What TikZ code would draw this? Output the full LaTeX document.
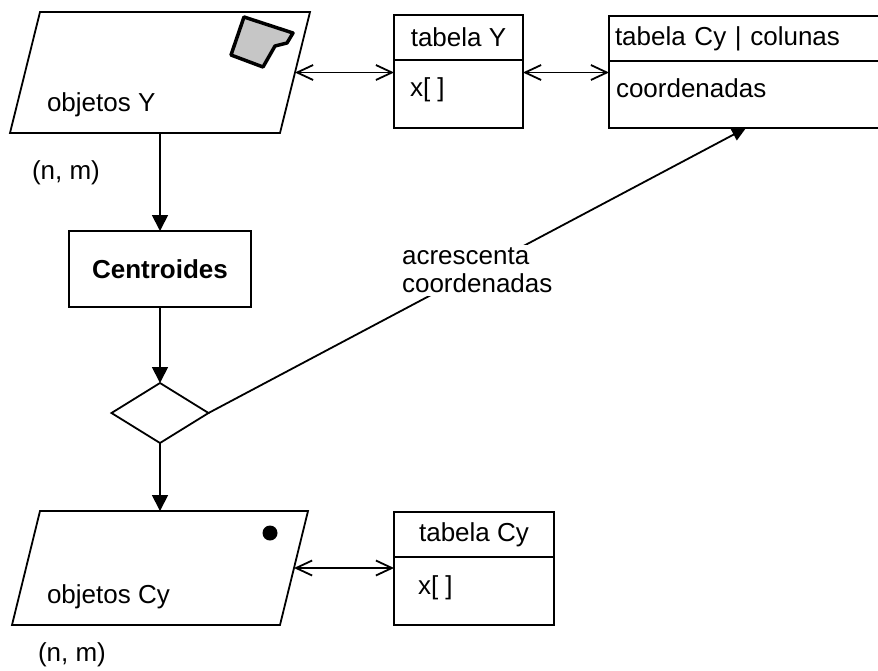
\documentclass[tikz,border=0pt]{standalone}
\usepackage{fontspec}
\setmainfont{Liberation Sans}
\usetikzlibrary{arrows.meta,shapes.geometric,positioning}
\begin{document}
\begin{tikzpicture}[x=1pt,y=-1pt,
  font=\fontsize{26}{28}\selectfont,
  line width=1.8pt,
  every node/.style={inner sep=0pt, outer sep=0pt},
  flow/.style={-{Triangle[length=16pt,width=16pt]}},
  flowsmall/.style={-{Triangle[length=14pt,width=13pt]}},
  link/.style={{Straight Barb[length=16pt,width=15pt]}-{Straight Barb[length=16pt,width=15pt]}},
  para/.style={rectangle, inner sep=0pt},
  box/.style={draw, rectangle, inner sep=0pt},
  hdr/.style={box, minimum height=45pt},
  bodybox/.style={box, minimum height=68pt},
  txt/.style={anchor=west}]
\useasboundingbox (0,0) rectangle (878,670);

% object layers (parallelograms)
\node[para, minimum width=270pt, minimum height=121pt] (objY) at (160,72.5) {};
\draw ([xshift=15pt]objY.north west) -- ([xshift=15pt]objY.north east)
   -- ([xshift=-15pt]objY.south east) -- ([xshift=-15pt]objY.south west) -- cycle;
\node[txt] (objYt) at (47,105) {objetos Y};
\node[txt] (nmY) at (32,173) {(n, m)};
\draw[line width=3.5pt, line join=round, fill=gray!45]
  (244,17) -- (293,33) -- (287,43) -- (275,46) -- (263,67) -- (231,55) -- cycle;

\node[para, minimum width=268pt, minimum height=114pt] (objC) at (160,568) {};
\draw ([xshift=14pt]objC.north west) -- ([xshift=14pt]objC.north east)
   -- ([xshift=-14pt]objC.south east) -- ([xshift=-14pt]objC.south west) -- cycle;
\node[txt] (objCt) at (47,597) {objetos Cy};
\node[txt] (nmC) at (38,655) {(n, m)};
\fill (270,533) circle (7.5pt);

% process and decision
\node[box, minimum width=182pt, minimum height=76pt, font=\fontsize{26}{28}\selectfont\bfseries]
  (cen) at (160,269) {Centroides};
\node[draw, shape=diamond, minimum width=97pt, minimum height=60pt, inner sep=0pt] (dia) at (160,413) {};

% tables
\node[hdr, minimum width=129pt] (tYh) at (458.5,37.5) {tabela Y};
\node[bodybox, minimum width=129pt, below=0pt of tYh] (tYb) {};
\node[txt] (tYx) at (410,90) {x[ ]};

\node[hdr, minimum width=274pt, text width=262pt, align=left] (cyh) at (746,38.5) {tabela Cy | colunas};
\node[bodybox, minimum width=274pt, minimum height=67pt, below=0pt of cyh] (cyb) {};
\node[txt] (cyx) at (616,88) {coordenadas};

\node[hdr, minimum width=160pt] (tCh) at (474,534.5) {tabela Cy};
\node[bodybox, below=0pt of tCh, minimum width=160pt] (tCb) {};
\node[txt] (tCx) at (418,588) {x[ ]};

% connectors
\draw[flow] (objY.south) -- (cen.north);
\draw[flow] (cen.south) -- (dia.north);
\draw[flow] (dia.south) -- (objC.north);
\draw[link] (objY.east) -- (objY.east -| tYh.west);
\draw[link] (objY.east -| tYh.east) -- (objY.east -| cyh.west);
\draw[link] (objC.east) -- (objC.east -| tCh.west);
\draw[flowsmall] (dia.east) -- (cyb.south)
  node[midway, fill=white, align=left, inner sep=3pt] (lbl) {acrescenta\\coordenadas};
\end{tikzpicture}
\end{document}
